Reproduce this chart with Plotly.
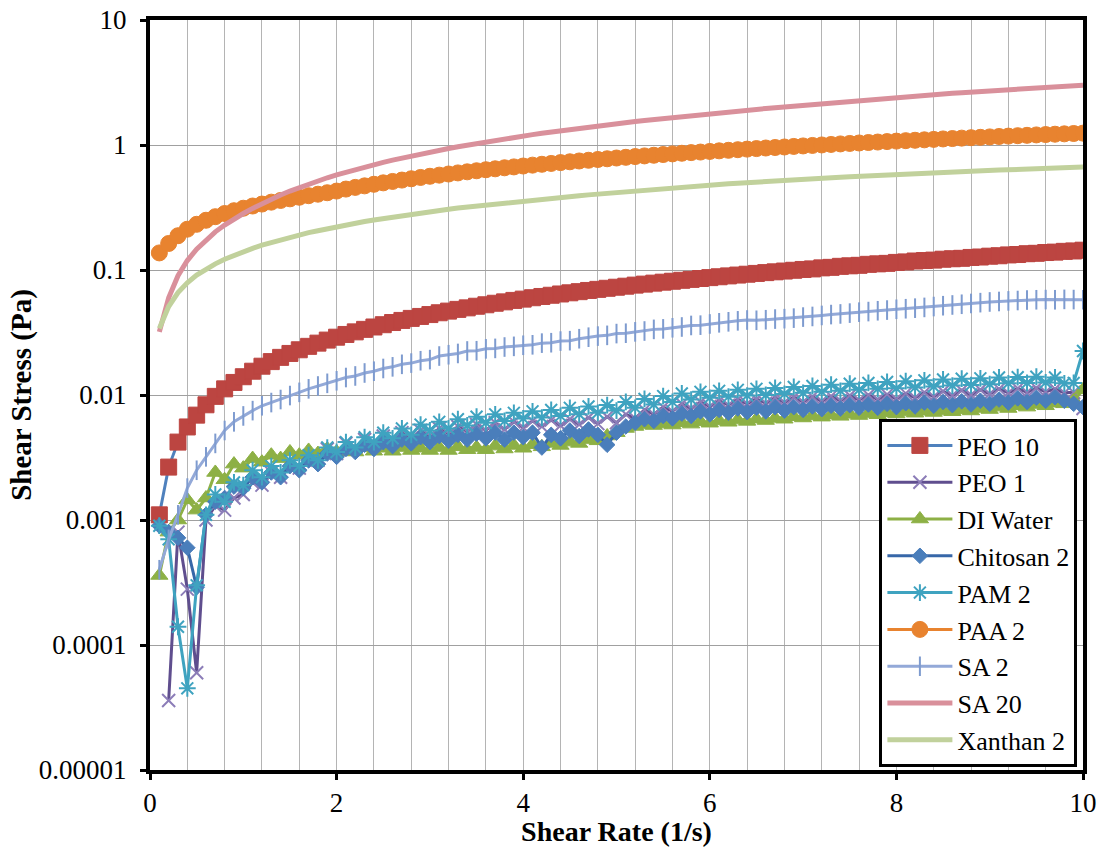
import plotly.graph_objects as go

# Shear rate (1/s)
shear_rate = [
    0.1, 0.2, 0.3, 0.4, 0.5, 0.6, 0.7, 0.8, 0.9, 1.0,
    1.1, 1.2, 1.3, 1.4, 1.5, 1.6, 1.7, 1.8, 1.9, 2.0,
    2.1, 2.2, 2.3, 2.4, 2.5, 2.6, 2.7, 2.8, 2.9, 3.0,
    3.1, 3.2, 3.3, 3.4, 3.5, 3.6, 3.7, 3.8, 3.9, 4.0,
    4.1, 4.2, 4.3, 4.4, 4.5, 4.6, 4.7, 4.8, 4.9, 5.0,
    5.1, 5.2, 5.3, 5.4, 5.5, 5.6, 5.7, 5.8, 5.9, 6.0,
    6.1, 6.2, 6.3, 6.4, 6.5, 6.6, 6.7, 6.8, 6.9, 7.0,
    7.1, 7.2, 7.3, 7.4, 7.5, 7.6, 7.7, 7.8, 7.9, 8.0,
    8.1, 8.2, 8.3, 8.4, 8.5, 8.6, 8.7, 8.8, 8.9, 9.0,
    9.1, 9.2, 9.3, 9.4, 9.5, 9.6, 9.7, 9.8, 9.9, 10.0,
]

# Shear stress (Pa) for each solution
peo_10 = [
    0.00110, 0.00265, 0.00420, 0.00555, 0.00690, 0.00835, 0.00975, 0.0112, 0.0126, 0.0140,
    0.0155, 0.0170, 0.0185, 0.0200, 0.0215, 0.0230, 0.0245, 0.0260, 0.0275, 0.0290,
    0.0305, 0.0320, 0.0335, 0.0350, 0.0365, 0.0380, 0.0395, 0.0410, 0.0425, 0.0440,
    0.0455, 0.0469, 0.0484, 0.0498, 0.0513, 0.0527, 0.0542, 0.0556, 0.0571, 0.0585,
    0.0600, 0.0614, 0.0628, 0.0643, 0.0657, 0.0671, 0.0686, 0.0700, 0.0714, 0.0728,
    0.0742, 0.0757, 0.0771, 0.0785, 0.0799, 0.0813, 0.0827, 0.0841, 0.0855, 0.0869,
    0.0883, 0.0897, 0.0911, 0.0925, 0.0939, 0.0953, 0.0967, 0.0981, 0.0995, 0.101,
    0.102, 0.104, 0.105, 0.107, 0.108, 0.109, 0.111, 0.112, 0.113, 0.115,
    0.116, 0.118, 0.119, 0.120, 0.122, 0.123, 0.124, 0.126, 0.127, 0.129,
    0.130, 0.132, 0.133, 0.135, 0.136, 0.138, 0.139, 0.141, 0.142, 0.144,
]

peo_1 = [
    None, 0.000036, 0.00080, 0.00028, 0.000060, 0.00100, 0.00130, 0.00120, 0.00150, 0.00160,
    0.00200, 0.00190, 0.00240, 0.00220, 0.00280, 0.00260, 0.00320, 0.00300, 0.00370, 0.00340,
    0.00410, 0.00380, 0.00440, 0.00410, 0.00470, 0.00430, 0.00500, 0.00450, 0.00520, 0.00470,
    0.00540, 0.00490, 0.00560, 0.00510, 0.00580, 0.00520, 0.00600, 0.00530, 0.00610, 0.00550,
    0.00620, 0.00560, 0.00630, 0.00570, 0.00640, 0.00580, 0.00660, 0.00590, 0.00670, 0.00600,
    0.00700, 0.00650, 0.00760, 0.00700, 0.00800, 0.00740, 0.00850, 0.00780, 0.00880, 0.00810,
    0.00900, 0.00830, 0.00920, 0.00850, 0.00930, 0.00860, 0.00950, 0.00870, 0.00960, 0.00880,
    0.00970, 0.00890, 0.00980, 0.00900, 0.00990, 0.00910, 0.01000, 0.00920, 0.01010, 0.00930,
    0.01030, 0.00950, 0.01050, 0.00970, 0.01070, 0.00990, 0.01090, 0.01000, 0.01100, 0.01020,
    0.01120, 0.01040, 0.01130, 0.01050, 0.01140, 0.01060, 0.01120, 0.01040, 0.01050, 0.00780,
]

di_water = [
    0.00036, 0.00080, 0.00100, 0.00145, 0.00120, 0.00150, 0.00240, 0.00210, 0.00280, 0.00260,
    0.00310, 0.00290, 0.00330, 0.00310, 0.00350, 0.00330, 0.00360, 0.00340, 0.00370, 0.00350,
    0.00370, 0.00350, 0.00380, 0.00355, 0.00375, 0.00355, 0.00380, 0.00360, 0.00375, 0.00360,
    0.00380, 0.00360, 0.00385, 0.00365, 0.00380, 0.00365, 0.00390, 0.00370, 0.00395, 0.00375,
    0.00400, 0.00385, 0.00410, 0.00395, 0.00420, 0.00410, 0.00440, 0.00430, 0.00470, 0.00500,
    0.00540, 0.00560, 0.00580, 0.00570, 0.00590, 0.00575, 0.00600, 0.00585, 0.00610, 0.00595,
    0.00620, 0.00605, 0.00630, 0.00615, 0.00640, 0.00625, 0.00650, 0.00640, 0.00670, 0.00655,
    0.00680, 0.00665, 0.00690, 0.00675, 0.00700, 0.00685, 0.00710, 0.00695, 0.00720, 0.00705,
    0.00730, 0.00715, 0.00740, 0.00725, 0.00750, 0.00735, 0.00760, 0.00745, 0.00780, 0.00765,
    0.00800, 0.00780, 0.00820, 0.00800, 0.00840, 0.00820, 0.00860, 0.00850, 0.00900, 0.01100,
]

chitosan_2 = [
    0.00090, 0.00080, 0.00072, 0.00060, 0.00029, 0.00110, 0.00140, 0.00150, 0.00185, 0.00180,
    0.00220, 0.00200, 0.00240, 0.00220, 0.00270, 0.00250, 0.00300, 0.00280, 0.00340, 0.00320,
    0.00370, 0.00350, 0.00400, 0.00370, 0.00420, 0.00390, 0.00440, 0.00410, 0.00460, 0.00420,
    0.00470, 0.00430, 0.00480, 0.00440, 0.00490, 0.00450, 0.00500, 0.00440, 0.00500, 0.00460,
    0.00500, 0.00380, 0.00480, 0.00450, 0.00520, 0.00470, 0.00530, 0.00480, 0.00400, 0.00500,
    0.00560, 0.00600, 0.00640, 0.00620, 0.00680, 0.00650, 0.00710, 0.00680, 0.00740, 0.00700,
    0.00760, 0.00720, 0.00780, 0.00730, 0.00790, 0.00740, 0.00800, 0.00750, 0.00800, 0.00760,
    0.00810, 0.00770, 0.00820, 0.00780, 0.00830, 0.00790, 0.00840, 0.00790, 0.00850, 0.00800,
    0.00860, 0.00810, 0.00870, 0.00820, 0.00880, 0.00830, 0.00890, 0.00840, 0.00900, 0.00850,
    0.00920, 0.00870, 0.00940, 0.00880, 0.00950, 0.00900, 0.00960, 0.00900, 0.00850, 0.00800,
]

pam_2 = [
    0.00090, 0.00070, 0.00014, 0.000045, 0.00030, 0.00110, 0.00160, 0.00140, 0.00200, 0.00190,
    0.00250, 0.00220, 0.00270, 0.00240, 0.00300, 0.00270, 0.00330, 0.00300, 0.00380, 0.00350,
    0.00420, 0.00380, 0.00460, 0.00420, 0.00500, 0.00450, 0.00540, 0.00480, 0.00580, 0.00520,
    0.00610, 0.00540, 0.00640, 0.00570, 0.00670, 0.00600, 0.00700, 0.00620, 0.00720, 0.00650,
    0.00740, 0.00660, 0.00760, 0.00680, 0.00790, 0.00700, 0.00810, 0.00720, 0.00830, 0.00750,
    0.00880, 0.00790, 0.00930, 0.00840, 0.00980, 0.00880, 0.01030, 0.00920, 0.01060, 0.00950,
    0.01080, 0.00970, 0.01100, 0.00990, 0.01120, 0.01000, 0.01140, 0.01020, 0.01160, 0.01040,
    0.01180, 0.01060, 0.01210, 0.01080, 0.01230, 0.01100, 0.01250, 0.01120, 0.01270, 0.01130,
    0.01290, 0.01150, 0.01310, 0.01170, 0.01330, 0.01190, 0.01350, 0.01200, 0.01360, 0.01220,
    0.01380, 0.01240, 0.01390, 0.01250, 0.01400, 0.01260, 0.01380, 0.01240, 0.01250, 0.02250,
]

paa_2 = [
    0.137, 0.163, 0.188, 0.212, 0.232, 0.250, 0.267, 0.283, 0.298, 0.312,
    0.325, 0.337, 0.349, 0.360, 0.371, 0.382, 0.393, 0.404, 0.415, 0.428,
    0.444, 0.458, 0.471, 0.485, 0.498, 0.511, 0.524, 0.537, 0.550, 0.562,
    0.574, 0.586, 0.598, 0.610, 0.622, 0.634, 0.645, 0.657, 0.668, 0.679,
    0.690, 0.701, 0.712, 0.723, 0.734, 0.745, 0.755, 0.766, 0.776, 0.787,
    0.797, 0.808, 0.818, 0.828, 0.839, 0.849, 0.859, 0.869, 0.878, 0.888,
    0.898, 0.907, 0.917, 0.927, 0.936, 0.946, 0.955, 0.964, 0.974, 0.983,
    0.992, 1.001, 1.010, 1.020, 1.029, 1.038, 1.047, 1.056, 1.065, 1.074,
    1.083, 1.091, 1.100, 1.109, 1.118, 1.126, 1.135, 1.144, 1.152, 1.161,
    1.170, 1.178, 1.187, 1.195, 1.204, 1.212, 1.220, 1.228, 1.236, 1.244,
]

sa_2 = [
    0.00040, 0.00070, 0.00110, 0.00180, 0.00250, 0.00320, 0.00410, 0.00520, 0.00610, 0.00680,
    0.00750, 0.00820, 0.00870, 0.00920, 0.00990, 0.0105, 0.0112, 0.0118, 0.0124, 0.0130,
    0.0138, 0.0142, 0.0150, 0.0155, 0.0163, 0.0168, 0.0176, 0.0180, 0.0188, 0.0192,
    0.0205, 0.0210, 0.0215, 0.0225, 0.0226, 0.0234, 0.0236, 0.0242, 0.0245, 0.0250,
    0.0252, 0.0260, 0.0262, 0.0270, 0.0272, 0.0282, 0.0290, 0.0296, 0.0300, 0.0310,
    0.0312, 0.0320, 0.0325, 0.0335, 0.0338, 0.0345, 0.0350, 0.0360, 0.0362, 0.0370,
    0.0378, 0.0385, 0.0392, 0.0398, 0.0396, 0.0400, 0.0405, 0.0408, 0.0412, 0.0420,
    0.0425, 0.0433, 0.0440, 0.0445, 0.0452, 0.0460, 0.0465, 0.0472, 0.0478, 0.0485,
    0.0490, 0.0495, 0.0502, 0.0510, 0.0518, 0.0525, 0.0532, 0.0540, 0.0548, 0.0555,
    0.0560, 0.0566, 0.0570, 0.0575, 0.0578, 0.0580, 0.0578, 0.0582, 0.0580, 0.0578,
]

sa_20 = [
    0.032, 0.060, 0.090, 0.119, 0.147, 0.175, 0.202, 0.229, 0.256, 0.283,
    0.311, 0.340, 0.369, 0.398, 0.428, 0.457, 0.487, 0.517, 0.547, 0.577,
    0.607, 0.637, 0.667, 0.697, 0.727, 0.757, 0.787, 0.817, 0.847, 0.877,
    0.907, 0.937, 0.967, 0.997, 1.03, 1.06, 1.09, 1.12, 1.15, 1.18,
    1.21, 1.24, 1.27, 1.30, 1.33, 1.36, 1.39, 1.42, 1.45, 1.48,
    1.51, 1.54, 1.57, 1.60, 1.63, 1.66, 1.69, 1.72, 1.75, 1.78,
    1.81, 1.84, 1.87, 1.90, 1.93, 1.96, 1.99, 2.02, 2.05, 2.08,
    2.11, 2.14, 2.17, 2.20, 2.23, 2.27, 2.30, 2.33, 2.36, 2.40,
    2.43, 2.46, 2.49, 2.52, 2.55, 2.59, 2.62, 2.65, 2.68, 2.71,
    2.74, 2.77, 2.80, 2.83, 2.86, 2.89, 2.92, 2.95, 2.98, 3.01,
]

xanthan_2 = [
    0.034, 0.051, 0.066, 0.079, 0.091, 0.102, 0.112, 0.122, 0.131, 0.140,
    0.149, 0.158, 0.166, 0.175, 0.183, 0.191, 0.199, 0.206, 0.214, 0.221,
    0.229, 0.236, 0.244, 0.251, 0.258, 0.265, 0.272, 0.279, 0.286, 0.293,
    0.300, 0.306, 0.313, 0.319, 0.326, 0.332, 0.338, 0.345, 0.351, 0.357,
    0.363, 0.369, 0.375, 0.381, 0.387, 0.393, 0.399, 0.405, 0.410, 0.416,
    0.423, 0.429, 0.435, 0.441, 0.447, 0.453, 0.459, 0.465, 0.471, 0.477,
    0.483, 0.489, 0.494, 0.500, 0.505, 0.511, 0.516, 0.522, 0.527, 0.532,
    0.537, 0.542, 0.547, 0.552, 0.557, 0.562, 0.567, 0.572, 0.576, 0.581,
    0.586, 0.590, 0.595, 0.599, 0.604, 0.608, 0.613, 0.617, 0.621, 0.626,
    0.630, 0.634, 0.638, 0.642, 0.647, 0.651, 0.655, 0.659, 0.663, 0.667,
]

y_tick_vals = [0.00001, 0.0001, 0.001, 0.01, 0.1, 1, 10]
y_tick_text = ["0.00001", "0.0001", "0.001", "0.01", "0.1", "1", "10"]
x_tick_vals = [0, 2, 4, 6, 8, 10]

FONT = "Liberation Serif"

series = [
    # name, values, line colour, marker symbol, marker colour, marker size, marker line width
    ("PEO 10", peo_10, "#4F81BD", "square", "#BC4541", 16, 1),
    ("PEO 1", peo_1, "#5F4E8E", "x-thin-open", "#8C7DB8", 13, 2),
    ("DI Water", di_water, "#8DB045", "triangle-up", "#8DB045", 15, 1),
    ("Chitosan 2", chitosan_2, "#3767A8", "diamond", "#4A7EBB", 12, 1),
    ("PAM 2", pam_2, "#3FA3C0", "asterisk-open", "#3FA3C0", 14, 2),
    ("PAA 2", paa_2, "#E8832F", "circle", "#E8832F", 16, 1),
    ("SA 2", sa_2, "#93A9D8", "line-ns-open", "#7E9BCF", 14, 2),
    ("SA 20", sa_20, "#D9909B", None, None, 0, 0),
    ("Xanthan 2", xanthan_2, "#C1D19C", None, None, 0, 0),
]

fig = go.Figure()
for name, vals, lcol, sym, mcol, msize, mlw in series:
    if sym is None:
        fig.add_trace(go.Scatter(
            x=shear_rate, y=vals, name=name, mode="lines",
            line=dict(color=lcol, width=5),
        ))
    else:
        fig.add_trace(go.Scatter(
            x=shear_rate, y=vals, name=name, mode="lines+markers",
            line=dict(color=lcol, width=3),
            marker=dict(symbol=sym, size=msize, color=mcol,
                        line=dict(color=mcol, width=mlw)),
        ))

fig.update_layout(
    width=1103, height=847,
    margin=dict(l=150, r=20, t=20, b=77),
    paper_bgcolor="white", plot_bgcolor="white",
    font=dict(family=FONT, size=27, color="black"),
    showlegend=True,
    legend=dict(
        x=0.994, xanchor="right", y=0.004, yanchor="bottom",
        bgcolor="white", bordercolor="black", borderwidth=3,
        font=dict(family=FONT, size=26, color="black"),
        tracegroupgap=0, itemwidth=65,
    ),
    xaxis=dict(
        range=[0, 10], tickvals=x_tick_vals, automargin=False,
        showgrid=True, gridcolor="#B4B4B4", gridwidth=1,
        minor=dict(dtick=0.4, tick0=0, showgrid=True, gridcolor="#B4B4B4", gridwidth=1),
        showline=True, linecolor="black", linewidth=4, mirror=True,
        ticks="outside", ticklen=6, tickwidth=3, tickcolor="black",
        tickfont=dict(family=FONT, size=27),
        title=dict(text="<b>Shear Rate (1/s)</b>", standoff=5,
                   font=dict(family=FONT, size=28)),
        zeroline=False,
    ),
    yaxis=dict(
        type="log", range=[-5, 1], automargin=False,
        tickvals=y_tick_vals, ticktext=y_tick_text,
        showgrid=True, gridcolor="#A0A0A0", gridwidth=1,
        showline=True, linecolor="black", linewidth=4, mirror=True,
        ticks="outside", ticklen=6, tickwidth=3, tickcolor="black",
        ticklabelstandoff=8,
        tickfont=dict(family=FONT, size=27),
        title=dict(text="<b>Shear Stress (Pa)</b>", standoff=0,
                   font=dict(family=FONT, size=29)),
        zeroline=False,
    ),
)

fig.write_html("out.html")
